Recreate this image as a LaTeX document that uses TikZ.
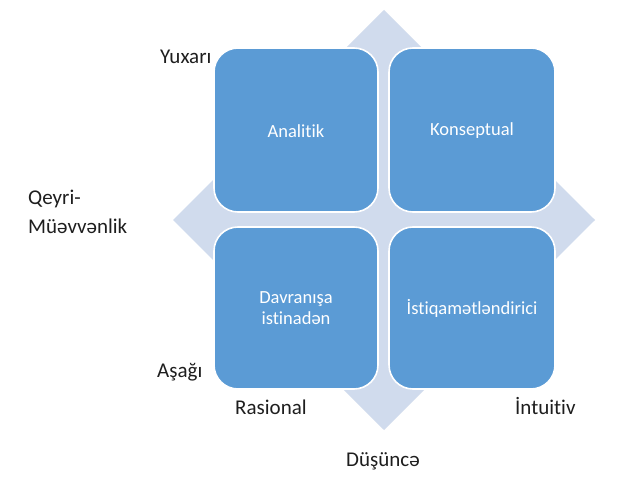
\documentclass[tikz,border=0pt]{standalone}
\usepackage{fontspec}
\setmainfont{Carlito}[Ligatures={NoCommon,NoRequired}]
\definecolor{boxblue}{RGB}{91,155,213}
\definecolor{paleblue}{RGB}{208,219,237}
\definecolor{labelgray}{RGB}{30,30,30}
\begin{document}
\begin{tikzpicture}[x=1pt,y=-1pt,
  quad/.style={draw=white,line width=1.6pt,fill=boxblue,rounded corners=24pt},
  quadtext/.style={text=white,font=\fontsize{18.5}{21.5}\selectfont,align=center},
  axislabel/.style={text=labelgray,font=\fontsize{21}{28}\selectfont,inner sep=0pt}]
\useasboundingbox (0,0) rectangle (640,481);
\fill[white] (0,0) rectangle (640,481);
% background diamond
\fill[paleblue] (384,10) -- (595,220) -- (384,430) -- (173,220) -- cycle;
% quadrants
\draw[quad] (214,48) rectangle (378,212);
\draw[quad] (389,48) rectangle (555,212);
\draw[quad] (214,227) rectangle (378,389);
\draw[quad] (389,227) rectangle (555,389);
\node[quadtext] (ul) at (296,131) {Analitik};
\node[quadtext] (ur) at (472,131) {Konseptual};
\node[quadtext] (ll) at (296,308) {Davranışa\\istinadən};
\node[quadtext] (lr) at (472,308) {İstiqamətləndirici};
% labels
\node[axislabel,anchor=base west] (yux) at (160,64) {Yuxarı};
\node[axislabel,anchor=base west] (qey) at (28,205) {Qeyri-};
\node[axislabel,anchor=base west] (mue) at (28,234) {Müəvvənlik};
\node[axislabel,anchor=base west] (asa) at (157,377) {Aşağı};
\node[axislabel,anchor=base west] (ras) at (235,414) {Rasional};
\node[axislabel,anchor=base west] (int) at (515,414) {İntuitiv};
\node[axislabel,anchor=base] (dus) at (383,466) {Düşüncə};
\end{tikzpicture}
\end{document}
